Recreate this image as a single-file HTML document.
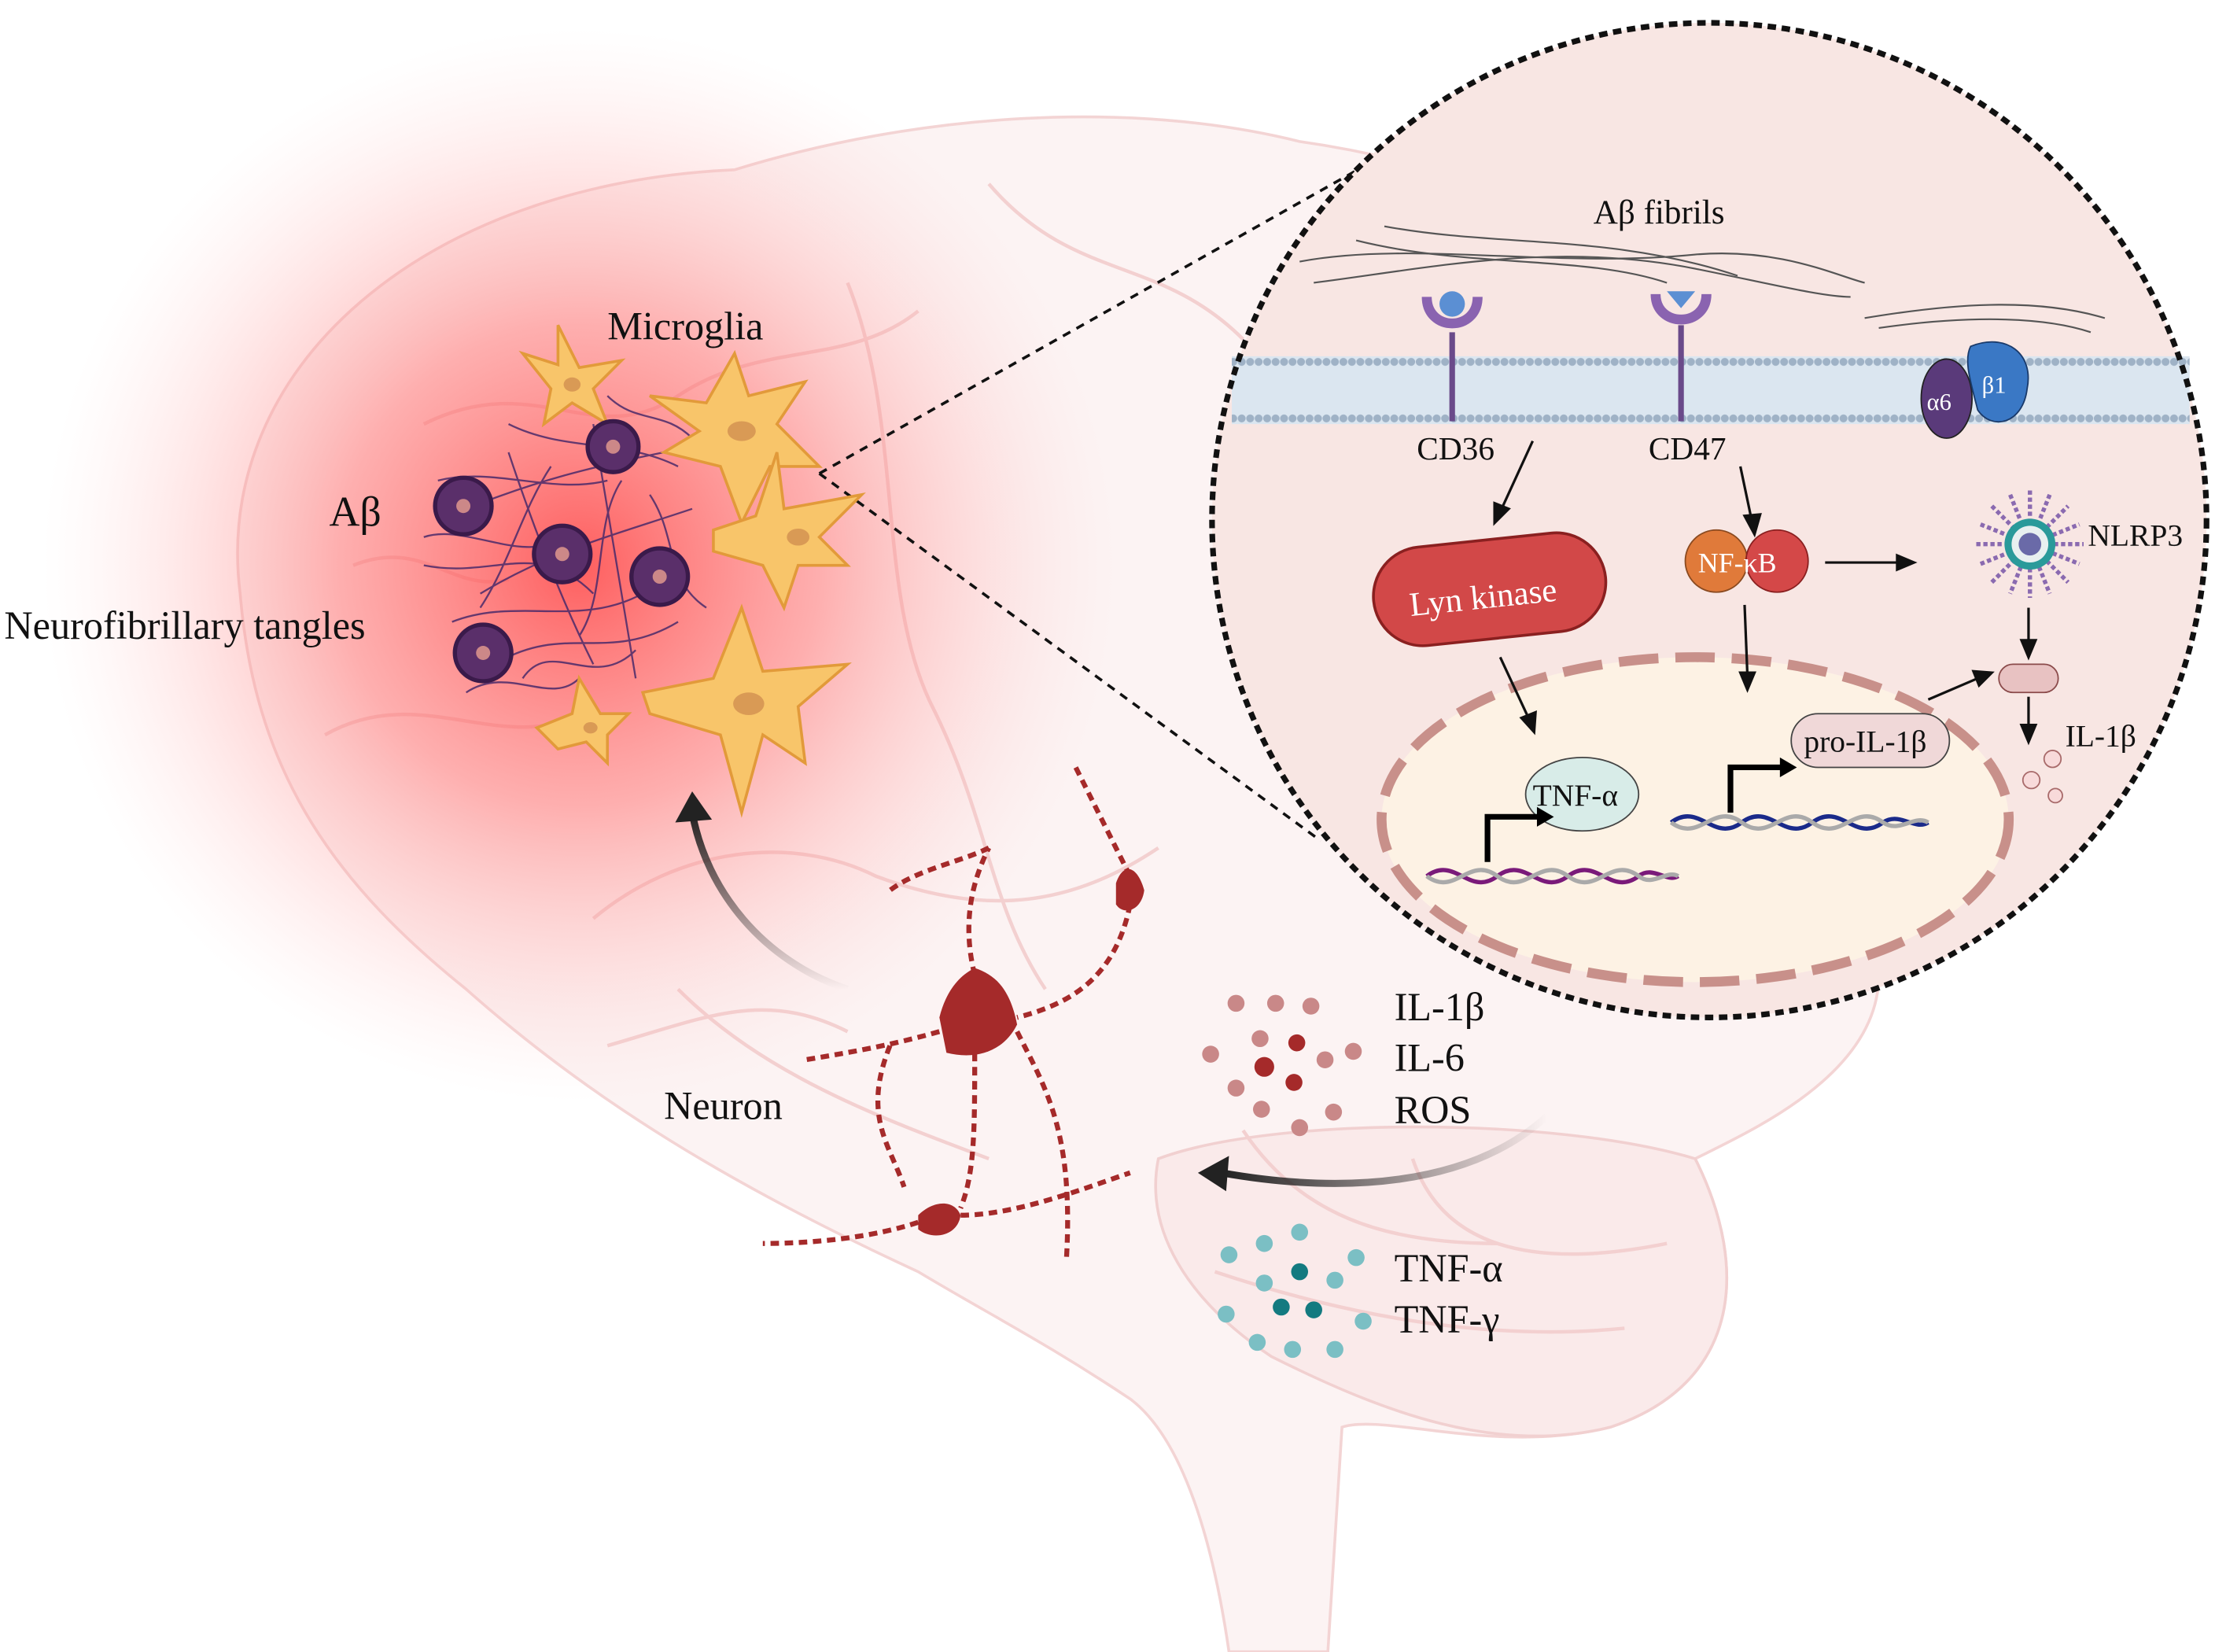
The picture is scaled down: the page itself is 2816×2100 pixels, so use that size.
<!DOCTYPE html>
<html><head><meta charset="utf-8"><style>
html,body{margin:0;padding:0;background:#fff}
svg{display:block}
text{font-family:"Liberation Serif",serif;fill:#111}
</style></head><body>
<svg width="2816" height="2100" viewBox="0 0 1568 1169" xmlns="http://www.w3.org/2000/svg">
<defs>
<radialGradient id="glow" cx="0.5" cy="0.5" r="0.5">
<stop offset="0" stop-color="#f44" stop-opacity="0.85"/>
<stop offset="0.45" stop-color="#f77" stop-opacity="0.55"/>
<stop offset="1" stop-color="#fcc" stop-opacity="0"/>
</radialGradient>
<linearGradient id="ar1" x1="0" y1="1" x2="0" y2="0"><stop offset="0" stop-color="#222" stop-opacity="0"/><stop offset="1" stop-color="#222"/></linearGradient>
<linearGradient id="ar2" x1="1" y1="0" x2="0" y2="0"><stop offset="0" stop-color="#222" stop-opacity="0"/><stop offset="1" stop-color="#222"/></linearGradient>
<pattern id="lip" x="0" y="252" width="6" height="48" patternUnits="userSpaceOnUse"><circle cx="3" cy="4" r="2.8" fill="#9fb2c6"/><circle cx="3" cy="44" r="2.8" fill="#9fb2c6"/></pattern>
</defs>
<rect width="1568" height="1169" fill="#fff"/>
<path d="M170,420 C150,260 300,130 520,120 C650,80 800,70 920,100 C1060,120 1200,180 1280,300 C1360,420 1370,560 1330,690 C1330,760 1240,800 1200,820 C1240,900 1230,980 1140,1010 C1060,1030 980,1000 950,1010 L940,1169 L870,1169 C860,1100 840,1020 800,990 C740,950 700,930 650,900 C520,840 420,780 330,700 C230,620 180,540 170,420 Z" fill="#fcf3f3" stroke="#f3d4d4" stroke-width="2"/>
<path d="M820,820 C900,790 1100,790 1200,820 C1240,900 1230,980 1140,1010 C1060,1030 980,1000 900,960 C840,920 810,870 820,820Z" fill="#faeaea" stroke="#f1d0d0" stroke-width="2"/>
<g fill="none" stroke="#f3d0d0" stroke-width="2.5">
<path d="M300,300 C380,260 420,320 480,280 C540,240 600,260 650,220"/>
<path d="M420,650 C480,600 560,590 620,620 C700,650 760,640 820,600"/>
<path d="M600,200 C640,300 620,420 660,500 C700,580 700,640 740,700"/>
<path d="M230,520 C300,480 360,540 420,500"/>
<path d="M700,130 C760,200 820,180 880,240"/>
<path d="M480,700 C540,760 620,790 700,820"/>
<path d="M250,400 C300,380 320,420 360,410"/>
<path d="M430,740 C500,720 540,700 600,730"/>
<path d="M880,800 C920,860 980,880 1060,880 M860,900 C950,930 1050,950 1150,940 M1000,820 C1020,880 1080,900 1180,880"/>
</g>
<circle cx="410" cy="400" r="380" fill="url(#glow)"/>
<line x1="580" y1="335" x2="970" y2="115" stroke="#111" stroke-width="2" stroke-dasharray="6,5"/>
<line x1="580" y1="335" x2="935" y2="595" stroke="#111" stroke-width="2" stroke-dasharray="6,5"/>
<g fill="none" stroke="#4a2a6a" stroke-width="1.3" opacity="0.85">
<path d="M330,360 C380,340 420,330 470,320 M340,420 C390,390 430,380 490,360 M320,440 C370,420 420,450 470,410 M360,320 C380,380 400,430 420,470 M420,300 C430,360 440,420 450,480 M350,470 C400,440 430,470 480,440"/>
<path d="M310,340 C350,330 390,350 430,340 M360,300 C400,320 440,310 480,330 M300,400 C350,410 380,380 420,420 M370,480 C390,450 420,490 450,460 M460,350 C480,380 470,410 500,430 M330,490 C360,470 390,500 410,480 M390,330 C370,360 360,400 340,430 M440,340 C420,370 430,420 410,450 M300,380 C330,370 370,400 400,380 M430,280 C450,300 470,290 490,310"/>
</g>
<g fill="#f8c56a" stroke="#e29a3a" stroke-width="2">
<path d="M460,280 L500,285 L520,250 L530,280 L570,270 L550,300 L580,330 L545,330 L525,370 L510,330 L470,320 L495,305 Z"/>
<path d="M370,250 L395,258 L395,230 L410,260 L440,255 L420,275 L430,300 L405,285 L385,300 L390,275 Z"/>
<path d="M505,375 L535,365 L550,320 L555,360 L610,350 L580,380 L600,400 L565,400 L555,430 L540,400 L505,390 Z"/>
<path d="M455,490 L505,480 L525,430 L540,475 L600,470 L565,500 L570,540 L540,520 L525,575 L510,520 L460,505 Z"/>
<path d="M380,515 L405,505 L410,480 L425,505 L445,505 L430,520 L430,540 L415,525 L395,530 Z"/>
</g>
<g fill="#d99a55"><ellipse cx="525" cy="305" rx="10" ry="7"/><ellipse cx="405" cy="272" rx="6" ry="5"/><ellipse cx="565" cy="380" rx="8" ry="6"/><ellipse cx="530" cy="498" rx="11" ry="8"/><ellipse cx="418" cy="515" rx="5" ry="4"/></g>
<g fill="#5a2f6a" stroke="#3a1a4a" stroke-width="3">
<circle cx="434" cy="316" r="18"/><circle cx="328" cy="358" r="20"/><circle cx="398" cy="392" r="20"/><circle cx="467" cy="408" r="20"/><circle cx="342" cy="462" r="20"/>
</g>
<g fill="#c88"><circle cx="434" cy="316" r="5"/><circle cx="328" cy="358" r="5"/><circle cx="398" cy="392" r="5"/><circle cx="467" cy="408" r="5"/><circle cx="342" cy="462" r="5"/></g>
<text x="430" y="240" font-size="28">Microglia</text>
<text x="233" y="372" font-size="30">Aβ</text>
<text x="3" y="452" font-size="28">Neurofibrillary tangles</text>
<path d="M600,700 C540,680 500,630 490,575" fill="none" stroke="url(#ar1)" stroke-width="5"/>
<polygon points="478,582 490,560 504,580" fill="#222"/>
<g fill="#a52a2a">
<path d="M665,720 C670,700 680,690 690,685 C705,690 715,700 720,725 C710,745 690,750 670,745 Z"/>
<path d="M790,625 C795,610 805,612 810,630 C808,645 795,648 790,640 Z"/>
<path d="M650,860 C660,850 675,848 680,860 C678,875 660,878 650,870 Z"/>
</g>
<g fill="none" stroke="#a52a2a" stroke-width="3.5" stroke-dasharray="6,4">
<path d="M665,730 C630,740 600,745 570,750"/><path d="M690,690 C680,650 690,620 700,600"/>
<path d="M720,730 C740,770 760,800 755,890"/><path d="M690,745 C690,800 690,830 680,855"/>
<path d="M800,620 C780,580 770,560 760,540"/><path d="M800,640 C790,690 760,710 720,720"/>
<path d="M650,865 C620,875 580,880 540,880"/><path d="M680,860 C720,860 770,840 800,830"/>
<path d="M630,740 C610,790 630,810 640,840"/><path d="M700,600 C680,610 650,615 630,630"/>
</g>
<text x="470" y="792" font-size="28">Neuron</text>
<g><circle cx="875" cy="710" r="6" fill="#c98888"/><circle cx="903" cy="710" r="6" fill="#c98888"/><circle cx="928" cy="712" r="6" fill="#c98888"/><circle cx="892" cy="735" r="6" fill="#c98888"/><circle cx="918" cy="738" r="6" fill="#a52a2a"/><circle cx="857" cy="746" r="6" fill="#c98888"/><circle cx="895" cy="755" r="7" fill="#a52a2a"/><circle cx="938" cy="750" r="6" fill="#c98888"/><circle cx="958" cy="744" r="6" fill="#c98888"/><circle cx="875" cy="770" r="6" fill="#c98888"/><circle cx="916" cy="766" r="6" fill="#a52a2a"/><circle cx="893" cy="785" r="6" fill="#c98888"/><circle cx="944" cy="787" r="6" fill="#c98888"/><circle cx="920" cy="798" r="6" fill="#c98888"/></g>
<text x="987" y="722" font-size="28">IL-1β</text><text x="987" y="758" font-size="28">IL-6</text><text x="987" y="795" font-size="28">ROS</text>
<path d="M1095,790 C1040,840 950,845 865,830" fill="none" stroke="url(#ar2)" stroke-width="5"/>
<polygon points="848,830 870,818 868,843" fill="#222"/>
<g fill="#7bbfc4"><circle cx="870" cy="888" r="6"/><circle cx="895" cy="880" r="6"/><circle cx="920" cy="872" r="6"/><circle cx="960" cy="890" r="6"/><circle cx="895" cy="908" r="6"/><circle cx="945" cy="906" r="6"/><circle cx="868" cy="930" r="6"/><circle cx="965" cy="935" r="6"/><circle cx="890" cy="950" r="6"/><circle cx="915" cy="955" r="6"/><circle cx="945" cy="955" r="6"/></g>
<g fill="#137a80"><circle cx="920" cy="900" r="6"/><circle cx="907" cy="925" r="6"/><circle cx="930" cy="927" r="6"/></g>
<text x="987" y="907" font-size="28">TNF-α</text><text x="987" y="943" font-size="28">TNF-γ</text>
<circle cx="1210" cy="368" r="352" fill="#f8e6e3"/>
<rect x="872" y="252" width="678" height="48" fill="#dbe6f0"/>
<rect x="872" y="252" width="678" height="48" fill="url(#lip)"/>
<g fill="none" stroke="#555" stroke-width="1.2">
<path d="M920,185 C1000,170 1100,190 1200,180 C1260,175 1300,195 1320,200"/>
<path d="M930,200 C1010,190 1100,170 1200,190 C1250,200 1290,210 1310,210"/>
<path d="M960,170 C1040,190 1120,180 1180,200"/>
<path d="M980,160 C1060,175 1140,165 1230,195"/>
<path d="M1320,225 C1380,215 1440,210 1490,225 M1330,232 C1400,222 1450,225 1480,235"/>
</g>
<text x="1128" y="158" font-size="24">Aβ fibrils</text>
<line x1="1028" y1="235" x2="1028" y2="298" stroke="#6a4a8a" stroke-width="4"/>
<path d="M1010,210 C1010,235 1046,235 1046,210" fill="none" stroke="#8a63b0" stroke-width="7"/>
<circle cx="1028" cy="215" r="9" fill="#5b8fd3"/>
<line x1="1190" y1="230" x2="1190" y2="298" stroke="#6a4a8a" stroke-width="4"/>
<path d="M1172,208 C1172,232 1208,232 1208,208" fill="none" stroke="#8a63b0" stroke-width="7"/>
<polygon points="1180,206 1200,206 1190,218" fill="#5b8fd3"/>
<ellipse cx="1378" cy="282" rx="18" ry="28" fill="#5a3a7a" stroke="#222"/>
<path d="M1395,245 C1420,235 1440,250 1435,275 C1432,300 1410,305 1400,290 C1395,270 1390,255 1395,245Z" fill="#3a78c5" stroke="#1a3a6a"/>
<text x="1364" y="290" font-size="17" style="fill:#fff">α6</text><text x="1403" y="278" font-size="17" style="fill:#fff">β1</text>
<text x="1003" y="325" font-size="23">CD36</text><text x="1167" y="325" font-size="23">CD47</text>
<ellipse cx="1200" cy="580" rx="222" ry="115" fill="#fdf2e4" stroke="#c8908a" stroke-width="7" stroke-dasharray="28,12"/>
<rect x="972" y="382" width="165" height="70" rx="35" fill="#d24848" stroke="#8a2020" stroke-width="2" transform="rotate(-6 1054 417)"/>
<text x="997" y="430" font-size="24" style="fill:#fff" transform="rotate(-6 1054 417)">Lyn kinase</text>
<circle cx="1215" cy="397" r="22" fill="#e07a3a" stroke="#8a4a20"/><circle cx="1258" cy="397" r="22" fill="#d44848" stroke="#8a2020"/>
<text x="1202" y="405" font-size="20" style="fill:#fff">NF-κB</text>
<g transform="translate(1437,385)">
<g stroke="#8a6ab0" stroke-width="3" stroke-dasharray="3,2">
<line x1="-38" y1="0" x2="38" y2="0"/><line x1="0" y1="-38" x2="0" y2="38"/><line x1="-27" y1="-27" x2="27" y2="27"/><line x1="-27" y1="27" x2="27" y2="-27"/>
<line x1="-35" y1="-14" x2="35" y2="14"/><line x1="-35" y1="14" x2="35" y2="-14"/><line x1="-14" y1="-35" x2="14" y2="35"/><line x1="14" y1="-35" x2="-14" y2="35"/>
</g>
<circle r="18" fill="#2a9a9a"/><circle r="13" fill="#e8f0f0"/><circle r="8" fill="#6a6aa8"/>
</g>
<text x="1478" y="386" font-size="22">NLRP3</text>
<rect x="1415" y="470" width="42" height="20" rx="10" fill="#e8c2c2" stroke="#8a4a4a"/>
<g fill="#f8dada" stroke="#a86a6a"><circle cx="1453" cy="537" r="6"/><circle cx="1438" cy="552" r="6"/><circle cx="1455" cy="563" r="5"/></g>
<text x="1462" y="528" font-size="22">IL-1β</text>
<g fill="none" stroke-width="3"><path d="M1010,620 C1030,605 1040,635 1060,620 C1080,605 1090,635 1110,620 C1130,605 1140,635 1160,620 C1170,612 1180,625 1188,620" stroke="#7a1a7a"/><path d="M1010,620 C1030,635 1040,605 1060,620 C1080,635 1090,605 1110,620 C1130,635 1140,605 1160,620 C1170,628 1180,615 1188,620" stroke="#aaa"/></g>
<ellipse cx="1120" cy="562" rx="40" ry="26" fill="#d8ece8" stroke="#444"/>
<text x="1085" y="570" font-size="22">TNF-α</text>
<path d="M1053,610 L1053,578 L1090,578" fill="none" stroke="#000" stroke-width="4"/><polygon points="1088,571 1100,578 1088,585" fill="#000"/>
<g fill="none" stroke-width="3"><path d="M1183,582 C1203,567 1213,597 1233,582 C1253,567 1263,597 1283,582 C1303,567 1313,597 1333,582 C1345,574 1355,588 1365,582" stroke="#1a2a8a"/><path d="M1183,582 C1203,597 1213,567 1233,582 C1253,597 1263,567 1283,582 C1303,597 1313,567 1333,582 C1345,590 1355,576 1365,582" stroke="#aaa"/></g>
<rect x="1268" y="505" width="112" height="38" rx="19" fill="#f0d8d8" stroke="#444"/>
<text x="1277" y="532" font-size="22">pro-IL-1β</text>
<path d="M1225,575 L1225,543 L1262,543" fill="none" stroke="#000" stroke-width="4"/><polygon points="1260,536 1272,543 1260,550" fill="#000"/>
<g stroke="#111" stroke-width="1.8" fill="#111">
<line x1="1085" y1="312" x2="1063" y2="360"/><polygon points="1058,370 1058,356 1068,360"/>
<line x1="1232" y1="330" x2="1240" y2="368"/><polygon points="1242,378 1235,365 1246,364"/>
<line x1="1292" y1="398" x2="1345" y2="398"/><polygon points="1355,398 1343,393 1343,403"/>
<line x1="1235" y1="428" x2="1237" y2="478"/><polygon points="1237,488 1232,476 1242,476"/>
<line x1="1062" y1="465" x2="1082" y2="508"/><polygon points="1086,518 1077,508 1087,504"/>
<line x1="1365" y1="495" x2="1400" y2="480"/><polygon points="1410,476 1397,475 1401,485"/>
<line x1="1436" y1="430" x2="1436" y2="455"/><polygon points="1436,465 1431,453 1441,453"/>
<line x1="1436" y1="493" x2="1436" y2="515"/><polygon points="1436,525 1431,513 1441,513"/>
</g>
<circle cx="1210" cy="368" r="352" fill="none" stroke="#111" stroke-width="4" stroke-dasharray="6,4"/>
</svg>
</body></html>
